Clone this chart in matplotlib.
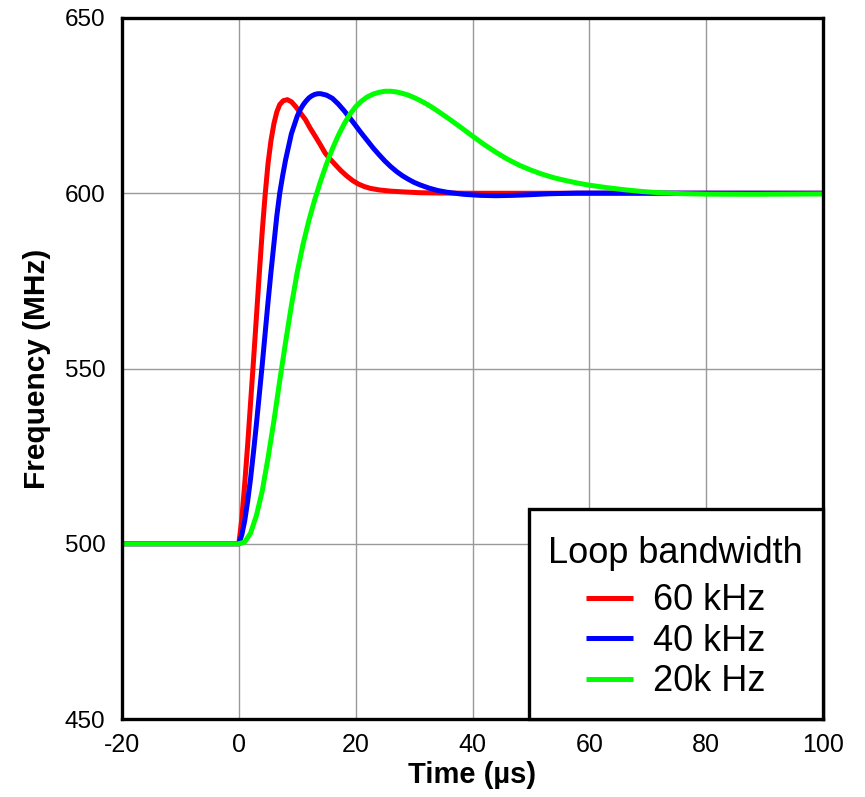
import matplotlib
matplotlib.use("Agg")
import matplotlib.pyplot as plt
from matplotlib import font_manager
from matplotlib.offsetbox import DrawingArea

# ---- data ----
t_60k = [-20, 0, 0.5, 1.0, 1.5, 2.0, 2.5, 3.0, 3.5, 4.0, 4.5, 5.0, 5.5, 6.0, 6.5, 7.0, 7.6,
         8.3, 9.0, 9.7, 10.5, 11.4, 12.2, 13.1, 14.0, 14.8, 15.7, 16.6, 17.5, 18.5, 19.5,
         20.5, 21.5, 22.5, 24, 26, 28, 31, 35, 40, 100]
f_60k = [500, 500, 507, 517, 528, 540, 552, 564.5, 577, 589, 599.5, 608.5, 615, 619.8, 623.2,
         625.3, 626.4, 626.7, 626.1, 624.8, 623.0, 621.0, 618.6, 616.2, 613.7, 611.4, 609.6,
         608.0, 606.4, 604.9, 603.6, 602.6, 601.9, 601.4, 600.95, 600.6, 600.4, 600.15,
         600.05, 600, 600]

t_40k = [-20, 0, 0.5, 1.0, 1.5, 2.0, 2.5, 3.0, 3.5, 4.0, 4.5, 5.0, 5.5, 6.0, 6.5, 7.0, 7.5,
         8.0, 9.0, 10.0, 10.5, 11.0, 11.5, 12.0, 12.5, 13.0, 13.5, 14.0, 15.0, 16.0, 17.0,
         18.0, 19.0, 20.0, 21.0, 22.0, 23.0, 24.0, 25.0, 26.0, 27.0, 28.0, 29.0, 30.0, 31.0,
         32.5, 34.0, 35.6, 38.5, 41.3, 44, 47, 50, 53, 58, 65, 100]
f_40k = [500, 500, 502.5, 506.5, 512, 518.5, 526, 534, 542.5, 551, 560, 569, 577.5, 585.5,
         593.5, 600, 605, 609.5, 617, 622, 623.8, 625.2, 626.3, 627.2, 627.8, 628.2, 628.4,
         628.4, 628.0, 627.1, 625.5, 623.6, 621.5, 619.3, 617.1, 615.0, 612.9, 611.0, 609.2,
         607.6, 606.2, 605.0, 604.0, 603.1, 602.4, 601.5, 600.8, 600.3, 599.7, 599.4, 599.3,
         599.4, 599.6, 599.85, 600.05, 600.05, 600]

t_20k = [-20, 0, 1, 2, 3, 4, 5, 6, 7, 8, 9, 10, 11, 12, 13, 14, 15, 16, 17, 18, 19, 20, 21,
         22, 23, 24, 25, 26, 27, 28, 29, 30, 31, 32, 33, 34, 36, 38, 40, 42, 44, 46, 48, 50,
         52, 54, 56, 58, 60, 63, 66, 69, 72, 75.5, 80, 88, 100]
f_20k = [500, 500, 500.5, 503, 508, 515, 524.5, 535, 546.5, 557.5, 568, 577.5, 585.5, 592.3,
         598.2, 603.5, 608.3, 612.6, 616.4, 619.7, 622.5, 624.7, 626.3, 627.5, 628.3, 628.8,
         629.1, 629.1, 628.9, 628.5, 628.0, 627.3, 626.5, 625.6, 624.6, 623.5, 621.2, 618.8,
         616.3, 613.9, 611.7, 609.7, 608.0, 606.6, 605.4, 604.4, 603.6, 602.9, 602.3, 601.6,
         601.0, 600.5, 600.15, 599.9, 599.75, 599.7, 599.8]

labels = ["60 kHz", "40 kHz", "20k Hz"]
colors = ["#ff0000", "#0000ff", "#00ff00"]
x_ticks = [-20, 0, 20, 40, 60, 80, 100]
y_ticks = [450, 500, 550, 600, 650]

# ---- fonts ----
avail = {f.name for f in font_manager.fontManager.ttflist}
base = "Liberation Sans" if "Liberation Sans" in avail else "DejaVu Sans"
narrow = "Liberation Sans Narrow" if "Liberation Sans Narrow" in avail else base
plt.rcParams["font.family"] = [base, "DejaVu Sans"]

fig = plt.figure(figsize=(8.65, 7.97), dpi=100)
ax = fig.add_axes([122 / 865, 1 - 719 / 797, (823 - 122) / 865, (719 - 18) / 797])

for t, f, lab, c in zip([t_60k, t_40k, t_20k], [f_60k, f_40k, f_20k], labels, colors):
    ax.plot(t, f, color=c, lw=3.6, label=lab, solid_capstyle="butt")

ax.set_xlim(-20, 100)
ax.set_ylim(450, 650)
ax.set_xticks(x_ticks)
ax.set_yticks(y_ticks)
ax.set_xticklabels([str(v) for v in x_ticks], fontsize=18, family=[narrow, "DejaVu Sans"])
ax.set_yticklabels([str(v) for v in y_ticks], fontsize=17.5)
ax.tick_params(axis="both", length=0)
ax.tick_params(axis="x", pad=10)
ax.tick_params(axis="y", pad=12)
ax.grid(True, color="#999999", lw=1.0)
ax.set_axisbelow(True)
for s in ax.spines.values():
    s.set_linewidth(2.4)
    s.set_color("black")

ax.set_xlabel("Time (\u00b5s)", fontsize=21, fontweight="bold", labelpad=3,
              family=[narrow, "DejaVu Sans"])
ax.set_ylabel("Frequency (MHz)", fontsize=21.5, fontweight="bold", labelpad=10,
              family=[narrow, "DejaVu Sans"])

leg = ax.legend(loc="lower right", bbox_to_anchor=(1.0, 0.0), borderaxespad=0,
                title="Loop bandwidth", fontsize=26, title_fontsize=26,
                handlelength=1.3, handletextpad=0.55, labelspacing=0.15,
                borderpad=0.55, fancybox=False, framealpha=1, edgecolor="black")
leg.get_frame().set_linewidth(2.4)
for h in leg.legend_handles:
    h.set_linewidth(3.6)

# extra space above the title and between the title and the entries
try:
    box = leg._legend_box
    kids = box._children
    box.sep = 0
    new = [DrawingArea(0, 5), kids[0], DrawingArea(0, 9)] + list(kids[1:])
    box._children = new
except Exception:
    pass

fig.savefig("out.png", dpi=100)
